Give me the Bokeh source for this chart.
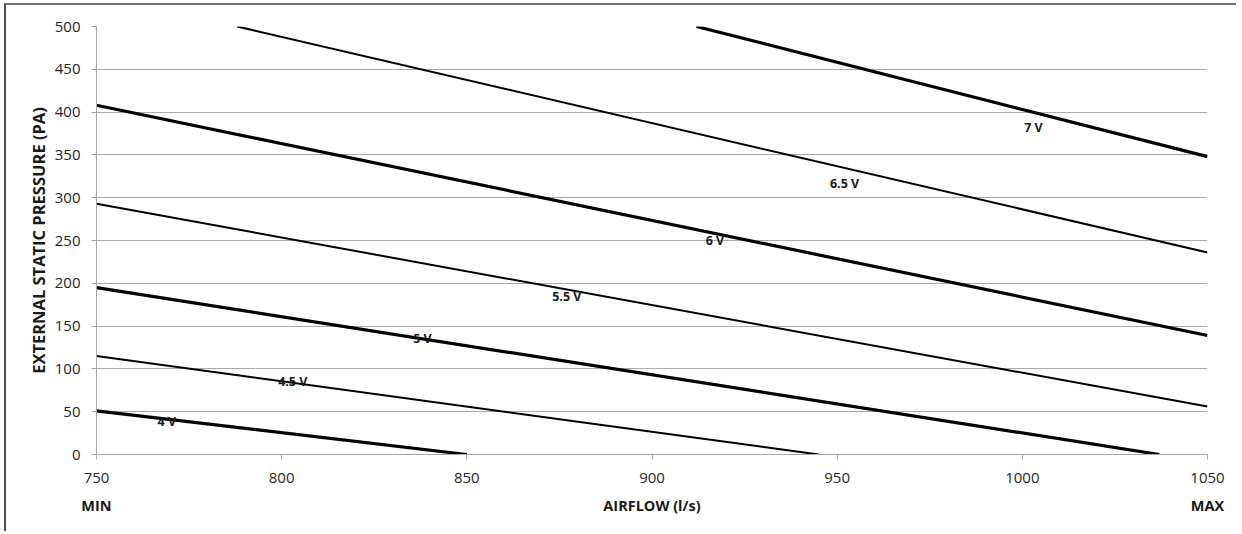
from bokeh.plotting import figure
from bokeh.models import Range1d, FixedTicker, LinearAxis, ColumnDataSource
from bokeh.core.properties import value
from bokeh.embed import file_html
from bokeh.resources import INLINE

# ---- data ----
voltages = ["4 V", "4.5 V", "5 V", "5.5 V", "6 V", "6.5 V", "7 V"]
airflow_start = [750, 750, 750, 750, 750, 788, 912]
pressure_start = [51, 115, 195, 293, 408, 500, 500]
airflow_end = [850, 945, 1037, 1050, 1050, 1050, 1050]
pressure_end = [0, 0, 0, 56, 139, 236, 348]

label_airflow = [769, 803, 838, 877, 917, 952, 1003]
label_pressure = [38, 85, 136, 184, 250, 317, 382]

x_ticks = [750, 800, 850, 900, 950, 1000, 1050]
y_ticks = [0, 50, 100, 150, 200, 250, 300, 350, 400, 450, 500]
bottom_ticks = [750, 900, 1050]
bottom_labels = {750: "MIN", 900: "AIRFLOW (l/s)", 1050: "MAX"}

FONT = "Open Sans"

p = figure(width=1232, height=528,
           x_range=Range1d(750, 1050), y_range=Range1d(0, 500),
           output_backend="svg", toolbar_location=None,
           min_border_left=90, min_border_right=31,
           min_border_top=21, min_border_bottom=79)
p.styles = {"margin-left": "4px", "margin-top": "3px",
            "border-left": "2px solid #4d4d4d",
            "border-top": "2px solid #707070"}

p.outline_line_color = None
p.background_fill_color = "white"
p.border_fill_color = "white"

# grid
p.xgrid.visible = False
p.ygrid.grid_line_color = "#ababab"
p.ygrid.grid_line_width = 1
p.ygrid.ticker = FixedTicker(ticks=y_ticks)

# axes
for ax in (p.xaxis[0], p.yaxis[0]):
    ax.axis_line_color = "#a6a6a6"
    ax.axis_line_width = 1
    ax.major_tick_line_color = "#a6a6a6"
    ax.major_tick_in = 0
    ax.major_tick_out = 5
    ax.minor_tick_line_color = None
    ax.major_label_text_font = FONT
    ax.major_label_text_font_size = "15px"
    ax.major_label_text_color = "#262626"
p.xaxis.ticker = FixedTicker(ticks=x_ticks)
p.yaxis.ticker = FixedTicker(ticks=y_ticks)
p.xaxis.major_label_standoff = 13
p.yaxis.major_label_standoff = 11

p.yaxis.axis_label = "EXTERNAL STATIC PRESSURE (PA)"
p.yaxis.axis_label_text_font = FONT
p.yaxis.axis_label_text_font_style = "bold"
p.yaxis.axis_label_text_font_size = "16.5px"
p.yaxis.axis_label_text_color = "#1a1a1a"
p.yaxis.axis_label_standoff = 2

# second bottom axis carrying MIN / AIRFLOW (l/s) / MAX
bottom = LinearAxis(ticker=FixedTicker(ticks=bottom_ticks),
                    major_label_overrides=bottom_labels)
bottom.axis_line_color = None
bottom.major_tick_line_color = None
bottom.minor_tick_line_color = None
bottom.major_tick_out = 0
bottom.major_tick_in = 0
bottom.major_label_standoff = 10
bottom.major_label_text_font = FONT
bottom.major_label_text_font_style = "bold"
bottom.major_label_text_font_size = "14.5px"
bottom.major_label_text_color = "#1a1a1a"
p.add_layout(bottom, "below")

# lines
for i in range(len(voltages)):
    width = 3.2 if i % 2 == 0 else 2.0
    p.line([airflow_start[i], airflow_end[i]],
           [pressure_start[i], pressure_end[i]],
           line_color="black", line_width=width)

src = ColumnDataSource(dict(x=label_airflow, y=label_pressure, t=voltages))
p.text(x="x", y="y", text="t", source=src,
       text_font=value(FONT), text_font_style="bold",
       text_font_size="12.5px", text_color="#1a1a1a",
       text_align="center", text_baseline="middle")

open("out.html", "w").write(file_html(p, INLINE))
